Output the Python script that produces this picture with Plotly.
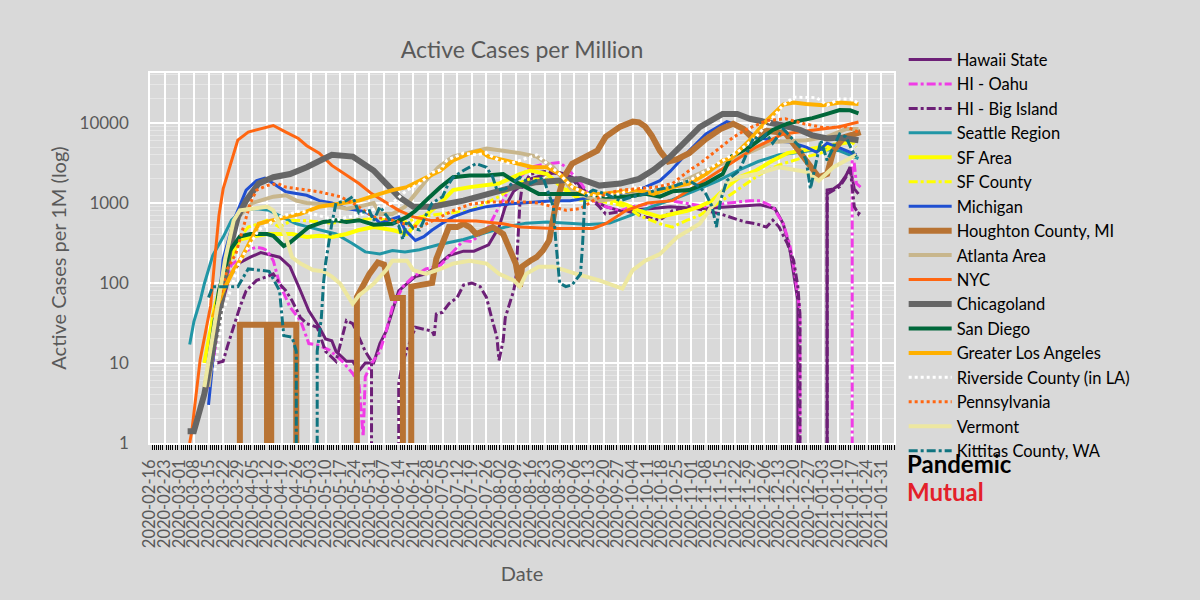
import pandas as pd
import plotly.graph_objects as go

start = pd.Timestamp("2020-02-16")

# day offsets from 2020-02-16 and active cases per million
hawaii_days = [28, 33, 38, 43, 48, 53, 62, 67, 72, 76, 81, 84, 87, 89, 94, 97, 100, 103, 107, 110,
               113, 116, 119, 123, 127, 132, 137, 143, 150, 155, 162, 167, 170, 174, 182, 190, 196, 202, 212, 218,
               225, 239, 249, 263, 277, 292, 299, 303, 306, 308, 310, 312, 323, 324, 327, 330, 333, 335, 337, 339]
hawaii_vals = [8, 40, 120, 180, 210, 240, 210, 160, 80, 45, 28, 20, 19, 14, 10.5, 10.5, 8, 10, 10, 17.5,
               25, 45, 80, 98, 120, 130, 160, 220, 250, 250, 300, 500, 900, 1400, 2000, 2300, 2400, 2100, 1100, 900,
               800, 850, 900, 850, 900, 950, 850, 550, 280, 130, 60, 0, 0, 1450, 1500, 1700, 2200, 2800, 1500, 1300]

oahu_days = [27, 29, 31, 33, 36, 39, 43, 46, 51, 54, 56, 59, 62, 67, 72, 76, 81, 86, 92, 97,
             100, 102, 103, 106, 110, 113, 116, 121, 126, 132, 139, 150, 154, 162, 167, 170, 172, 182, 190, 196,
             199, 206, 212, 218, 225, 231, 241, 249, 266, 277, 287, 292, 298, 303, 306, 308, 310, 311, 312, 335,
             336, 337, 338, 340]
oahu_vals = [4.5, 7, 14, 40, 100, 170, 200, 255, 280, 270, 255, 190, 98, 50, 34, 17.5, 16.6, 14.4, 10.5, 7.4,
             5.5, 1.2, 6.7, 9.8, 14, 25, 50, 90, 120, 150, 167, 340, 330, 500, 900, 1200, 1580, 2800, 3100, 3200,
             2800, 1800, 1070, 900, 800, 900, 1000, 1070, 900, 1000, 1070, 1070, 900, 550, 310, 160, 70, 40, 0, 0,
             3400, 3100, 1750, 1580]

big_island_days = [32, 35, 37, 40, 43, 46, 51, 56, 59, 62, 65, 68, 72, 75, 80, 84, 89, 94, 97, 103,
                   106, 107, 118, 119, 121, 127, 135, 136, 137, 140, 143, 147, 150, 154, 158, 161, 163, 166, 167, 169,
                   170, 174, 175, 177, 178, 182, 190, 196, 199, 202, 206, 215, 218, 228, 237, 244, 250, 258, 266, 273,
                   282, 285, 290, 295, 298, 301, 305, 308, 310, 311, 312, 323, 324, 327, 330, 333, 335, 337, 339, 340]
big_island_vals = [10, 10.5, 16, 28, 50, 80, 108, 120, 130, 98, 80, 60, 37, 31, 28, 14, 10.5, 34, 31, 14,
                   10.5, 0, 0, 5.5, 10.5, 28, 25, 22, 41, 43, 55, 66, 94, 100, 90, 66, 41, 21, 10.8, 19,
                   37, 80, 108, 1000, 1580, 2300, 2500, 2300, 2400, 2000, 1500, 900, 730, 800, 670, 610, 800, 900, 800, 730,
                   610, 580, 550, 500, 610, 500, 310, 190, 90, 40, 0, 0, 1300, 1450, 1600, 2100, 2800, 900, 730, 800]

seattle_days = [19, 21, 24, 26, 30, 35, 39, 44, 51, 57, 63, 70, 76, 82, 89, 97, 103, 110, 116, 122,
                129, 138, 150, 160, 170, 180, 190, 200, 210, 220, 230, 240, 250, 260, 272, 282, 291, 301, 311, 320,
                330, 339]
seattle_vals = [17, 33, 60, 98, 220, 375, 610, 810, 850, 810, 670, 550, 500, 460, 410, 310, 245, 230, 255, 245,
                260, 300, 350, 420, 500, 560, 580, 560, 540, 560, 700, 900, 1100, 1400, 1900, 2600, 3300, 4000, 4300, 4700,
                4500, 3600]

sf_area_days = [26, 31, 36, 43, 49, 56, 62, 68, 75, 81, 87, 94, 100, 107, 116, 123, 129, 135, 139, 145,
                153, 167, 177, 182, 190, 198, 206, 216, 228, 234, 244, 250, 257, 263, 269, 276, 282, 290, 298, 305,
                311, 321, 330, 338]
sf_area_vals = [10, 50, 150, 350, 380, 410, 410, 410, 375, 390, 375, 410, 460, 500, 460, 410, 610, 810, 1000, 1450,
                1580, 1750, 2300, 2550, 2300, 1500, 1100, 1200, 950, 800, 670, 730, 800, 900, 1070, 1580, 2100, 2550, 3400, 4200,
                4500, 5000, 5600, 6000]

sf_county_days = [27, 33, 40, 47, 52, 56, 62, 68, 75, 81, 87, 94, 100, 107, 116, 123, 129, 139, 153, 167,
                  177, 182, 190, 198, 206, 216, 228, 234, 244, 250, 257, 263, 272, 282, 292, 301, 311, 321, 330, 335,
                  338]
sf_county_vals = [5, 80, 300, 500, 550, 610, 500, 610, 600, 580, 560, 600, 620, 640, 600, 580, 670, 730, 800, 1200,
                  1800, 2000, 2000, 1700, 1100, 1050, 900, 700, 550, 500, 610, 700, 1000, 1500, 2300, 3000, 3600, 4200, 5600, 6100,
                  5000]

michigan_days = [28, 31, 35, 40, 44, 46, 51, 55, 59, 65, 75, 81, 87, 94, 103, 107, 110, 119, 122, 127,
                 131, 135, 139, 145, 153, 161, 169, 177, 193, 201, 209, 218, 228, 237, 244, 249, 258, 266, 276, 282,
                 290, 298, 306, 314, 319, 324, 330, 338]
michigan_vals = [3, 20, 200, 600, 1070, 1450, 1900, 2050, 1750, 1380, 1250, 1070, 1000, 850, 780, 670, 560, 670, 460, 340,
                 380, 460, 540, 670, 800, 900, 960, 1000, 1070, 1070, 1150, 1200, 1300, 1580, 1900, 2500, 4500, 7300, 10400, 9300,
                 6700, 6000, 5800, 5000, 4300, 5600, 4900, 4000]

houghton_days = [42, 43, 56, 57, 58, 70, 71, 98, 99, 105, 109, 112, 116, 121, 122, 124, 125, 135, 137, 139,
                 142, 143, 147, 150, 153, 156, 161, 164, 169, 172, 175, 177, 178, 182, 185, 188, 191, 194, 198, 202,
                 209, 214, 218, 225, 231, 234, 237, 240, 244, 248, 252, 258, 266, 273, 279, 284, 288, 295, 304, 311,
                 317, 320, 324, 327, 332, 340]
houghton_vals = [0, 30, 30, 0, 30, 30, 0, 0, 67, 130, 180, 170, 65, 65, 0, 0, 90, 100, 200, 280,
                 410, 500, 500, 550, 500, 410, 460, 500, 410, 280, 175, 90, 160, 190, 210, 255, 340, 900, 2100, 3100,
                 3800, 4500, 6700, 9000, 10400, 10200, 9000, 7000, 4500, 3300, 3500, 4200, 6300, 8400, 9800, 8400, 6600, 8000, 7500, 4200,
                 2550, 2100, 2300, 4500, 6600, 7700]

atlanta_days = [28, 33, 38, 43, 49, 59, 65, 70, 75, 84, 94, 100, 107, 110, 116, 122, 127, 132, 138, 145,
                153, 161, 169, 177, 185, 193, 197, 202, 209, 216, 225, 233, 249, 266, 282, 298, 314, 324, 333, 339]
atlanta_vals = [5, 60, 300, 700, 1000, 1200, 1250, 1070, 1000, 960, 850, 900, 1000, 730, 730, 900, 1300, 1900, 2800, 3800,
                4300, 4800, 4500, 4200, 3800, 2800, 2100, 1450, 1200, 1070, 1200, 1300, 1580, 2550, 3800, 5800, 6100, 6700, 8400, 8400]

nyc_days = [19, 20, 24, 27, 29, 31, 33, 35, 38, 42, 47, 54, 59, 65, 71, 75, 81, 87, 94, 100,
            106, 113, 119, 126, 134, 145, 156, 169, 177, 193, 212, 218, 228, 238, 250, 263, 278, 290, 303, 319,
            330, 339]
nyc_vals = [1, 1.4, 11, 30, 52, 200, 700, 1500, 2800, 6100, 7700, 8500, 9300, 7700, 6400, 5200, 4200, 2950, 2200, 1750,
            1310, 1000, 810, 670, 610, 600, 595, 550, 500, 480, 480, 550, 810, 1000, 1070, 1750, 3100, 5000, 7300, 8200,
            9000, 10300]

chicago_days = [18, 21, 26, 30, 33, 38, 42, 46, 52, 59, 67, 75, 81, 87, 97, 107, 113, 119, 126, 135,
                150, 161, 174, 185, 196, 206, 215, 225, 234, 241, 249, 258, 263, 274, 281, 287, 295, 303, 311, 317,
                324, 330, 339]
chicago_vals = [1.4, 1.4, 4.1, 14, 37, 255, 670, 1070, 1760, 2100, 2300, 2800, 3400, 4000, 3800, 2550, 1750, 1200, 900, 900,
                1070, 1300, 1580, 1820, 1900, 2000, 1650, 1750, 2000, 2600, 3800, 6500, 8900, 13000, 13000, 11300, 10400, 9300, 8200, 7000,
                6400, 6600, 6100]

san_diego_days = [28, 33, 38, 43, 48, 56, 59, 64, 67, 70, 76, 83, 89, 94, 100, 107, 116, 123, 127, 134,
                  139, 145, 153, 161, 169, 174, 180, 186, 193, 209, 218, 228, 237, 244, 250, 258, 266, 274, 278, 287,
                  298, 305, 311, 317, 324, 330, 335, 339]
san_diego_vals = [10, 80, 250, 380, 410, 410, 390, 290, 320, 375, 500, 580, 610, 580, 610, 535, 550, 670, 800, 1200,
                  1580, 2100, 2200, 2200, 2300, 1900, 1580, 1300, 1300, 1300, 1200, 1200, 1300, 1200, 1400, 1450, 1750, 2300, 3800, 5000,
                  8200, 9800, 10700, 11500, 13000, 14500, 14400, 13200]

la_days = [30, 35, 40, 44, 49, 52, 59, 65, 72, 81, 91, 100, 110, 116, 123, 129, 135, 139, 145, 153,
           158, 162, 170, 177, 183, 190, 196, 202, 209, 216, 225, 233, 241, 250, 258, 266, 274, 278, 287, 295,
           303, 308, 314, 322, 330, 339]
la_vals = [37, 80, 145, 210, 375, 550, 610, 670, 730, 900, 1000, 1070, 1300, 1450, 1580, 1900, 2300, 2550, 3400, 4200,
           4500, 3800, 3400, 3100, 2800, 2800, 2300, 1580, 1300, 1300, 1380, 1450, 1300, 1580, 1750, 2300, 3400, 3600, 6100, 10700,
           17000, 18000, 17300, 16700, 18000, 17300]

riverside_days = [31, 35, 38, 43, 48, 52, 57, 62, 67, 72, 78, 83, 89, 95, 100, 110, 116, 123, 129, 135,
                  139, 142, 150, 156, 161, 167, 172, 177, 182, 185, 190, 196, 202, 209, 214, 225, 233, 241, 250, 258,
                  266, 274, 282, 290, 298, 303, 308, 314, 319, 324, 330, 336, 339]
riverside_vals = [8, 45, 74, 190, 310, 460, 550, 670, 730, 800, 730, 670, 610, 670, 700, 900, 1000, 1450, 1750, 2400,
                  2600, 3400, 4200, 4000, 4200, 3400, 3100, 3400, 3800, 4000, 3100, 2300, 1580, 1300, 1200, 1300, 1580, 1500, 1750, 1900,
                  2550, 3400, 4500, 6700, 12000, 16700, 21000, 21000, 20700, 16700, 20000, 20000, 17300]

penn_days = [26, 30, 33, 37, 41, 48, 51, 56, 61, 65, 72, 81, 91, 97, 107, 116, 123, 129, 139, 145,
             153, 161, 170, 180, 186, 193, 199, 206, 212, 218, 225, 233, 242, 250, 258, 263, 271, 279, 285, 295,
             304, 313, 323, 333, 339]
penn_vals = [5, 20, 60, 150, 230, 1000, 1450, 1650, 1750, 1580, 1500, 1380, 1200, 1000, 670, 610, 535, 500, 670, 800,
             960, 1030, 1030, 1030, 1000, 900, 810, 850, 1070, 1300, 1450, 1500, 1580, 1750, 2550, 3100, 4500, 6600, 8200, 10700,
             11300, 9800, 8700, 9000, 7700]

vermont_days = [26, 31, 36, 40, 43, 49, 56, 59, 62, 65, 68, 72, 75, 78, 83, 87, 91, 94, 97, 100,
                107, 113, 116, 123, 126, 132, 139, 145, 153, 161, 167, 174, 177, 180, 186, 193, 198, 204, 215, 221,
                226, 231, 237, 244, 252, 263, 271, 277, 282, 290, 301, 314, 320, 327, 333, 338]
vermont_vals = [5, 30, 200, 600, 810, 850, 900, 810, 550, 375, 210, 175, 160, 145, 140, 120, 98, 74, 55, 70,
                98, 145, 190, 190, 145, 130, 150, 175, 190, 175, 130, 108, 90, 130, 160, 160, 145, 130, 108, 95,
                85, 145, 190, 230, 370, 550, 1070, 1900, 2100, 2300, 2800, 2450, 1900, 2800, 3400, 4000]

kittitas_days = [28, 30, 32, 42, 47, 52, 57, 62, 64, 68, 70, 71, 79, 80, 82, 83, 84, 87, 89, 94,
                 97, 99, 100, 105, 107, 110, 115, 119, 121, 123, 126, 129, 132, 135, 137, 140, 142, 145, 150, 153,
                 156, 161, 164, 166, 170, 177, 182, 188, 191, 193, 194, 196, 199, 202, 206, 207, 208, 209, 212, 218,
                 225, 231, 237, 242, 250, 258, 263, 266, 269, 271, 273, 276, 282, 289, 292, 295, 298, 303, 311, 314,
                 316, 321, 324, 330, 333, 336, 338]
kittitas_vals = [66, 90, 90, 90, 150, 145, 140, 80, 22, 21, 14, 0, 0, 14, 37, 98, 175, 550, 1000, 1070,
                 1200, 900, 750, 800, 600, 900, 600, 520, 350, 600, 480, 460, 700, 1000, 1070, 1200, 1580, 2100, 2550, 2800,
                 3100, 2800, 2100, 1450, 1500, 2100, 1750, 2100, 1300, 900, 375, 100, 90, 95, 130, 310, 1070, 1300, 1450, 1300,
                 1070, 1200, 1300, 1450, 1600, 1900, 1580, 1300, 900, 500, 1070, 1900, 2550, 6700, 6100, 7300, 5600, 8400, 5000, 3400,
                 1500, 6100, 3400, 7300, 6700, 4500, 3800]

y_ticks = [1, 10, 100, 1000, 10000]
y_tick_text = ["1", "10", "100", "1000", "10000"]

series = [
    ("Hawaii State", hawaii_days, hawaii_vals, "#6d2077", 3, "solid"),
    ("HI - Oahu", oahu_days, oahu_vals, "#f03ce6", 3, "dashdot"),
    ("HI - Big Island", big_island_days, big_island_vals, "#6d2077", 3, "dashdot"),
    ("Seattle Region", seattle_days, seattle_vals, "#2196a6", 3, "solid"),
    ("SF Area", sf_area_days, sf_area_vals, "#ffff00", 4, "solid"),
    ("SF County", sf_county_days, sf_county_vals, "#ffff00", 3, "dashdot"),
    ("Michigan", michigan_days, michigan_vals, "#1f4fd1", 3, "solid"),
    ("Houghton County, MI", houghton_days, houghton_vals, "#b87333", 6, "solid"),
    ("Atlanta Area", atlanta_days, atlanta_vals, "#c8b68c", 4, "solid"),
    ("NYC", nyc_days, nyc_vals, "#ff6611", 3, "solid"),
    ("Chicagoland", chicago_days, chicago_vals, "#666666", 6, "solid"),
    ("San Diego", san_diego_days, san_diego_vals, "#00673a", 4, "solid"),
    ("Greater Los Angeles", la_days, la_vals, "#ffb000", 4, "solid"),
    ("Riverside County (in LA)", riverside_days, riverside_vals, "#ffffff", 3, "dot"),
    ("Pennsylvania", penn_days, penn_vals, "#ff6611", 3, "dot"),
    ("Vermont", vermont_days, vermont_vals, "#ede7a0", 4, "solid"),
    ("Kittitas County, WA", kittitas_days, kittitas_vals, "#107480", 3, "dashdot"),
]

fig = go.Figure()
for name, days, vals, color, width, dash in series:
    dates = start + pd.to_timedelta(days, unit="D")
    fig.add_trace(go.Scatter(x=dates, y=vals, mode="lines", name=name,
                             line=dict(color=color, width=width, dash=dash)))

font = "Lato, sans-serif"
fig.update_layout(
    width=1200, height=600,
    paper_bgcolor="#d9d9d9", plot_bgcolor="#d9d9d9",
    margin=dict(l=150, r=306, t=73, b=157),
    font=dict(family=font, color="#595959"),
    title=dict(text="Active Cases per Million", xref="paper", x=0.5, xanchor="center",
               y=0.917, yanchor="middle", font=dict(size=23, color="#595959")),
    legend=dict(x=1.013, y=1.083, xanchor="left", yanchor="top", itemwidth=43, maxheight=600,
                font=dict(size=16.5, color="black"), bgcolor="rgba(0,0,0,0)"),
    showlegend=True,
)
fig.update_xaxes(
    type="date", range=["2020-02-16", "2021-02-06"],
    tick0="2020-02-16", dtick=7 * 86400000, tickformat="%Y-%m-%d", tickangle=-90,
    tickfont=dict(size=16.5, color="#595959"), ticks="", ticklabelstandoff=8,
    showgrid=True, gridcolor="white", gridwidth=1.5, zeroline=False,
    showline=True, linecolor="white", linewidth=1.5, mirror=True,
    minor=dict(ticks="outside", dtick=86400000, ticklen=5, tickcolor="black", tickwidth=1, showgrid=False),
    title=dict(text="Date", standoff=20, font=dict(size=20, color="#595959")),
)
fig.update_yaxes(
    type="log", range=[0, 4.625], tickvals=y_ticks, ticktext=y_tick_text,
    tickfont=dict(size=17, color="#595959"), ticklabelstandoff=16,
    showgrid=True, gridcolor="white", gridwidth=1.5, zeroline=False,
    showline=True, linecolor="white", linewidth=1.5, mirror=True,
    minor=dict(dtick="D1", showgrid=True, gridcolor="#e6e6e6", gridwidth=1, ticks=""),
    title=dict(text="Active Cases per 1M (log)", standoff=8, font=dict(size=20, color="#595959")),
)
fig.add_annotation(text="<b>Pandemic</b>", xref="paper", yref="paper", x=1.0144, y=-0.055,
                   xanchor="left", yanchor="middle", showarrow=False,
                   font=dict(family=font, size=24, color="black"))
fig.add_annotation(text="<b>Mutual</b>", xref="paper", yref="paper", x=1.0144, y=-0.13,
                   xanchor="left", yanchor="middle", showarrow=False,
                   font=dict(family=font, size=24, color="#e3202a"))

fig.write_html("out.html", config={"displayModeBar": False},
               post_script="document.body.style.margin = '0';")
